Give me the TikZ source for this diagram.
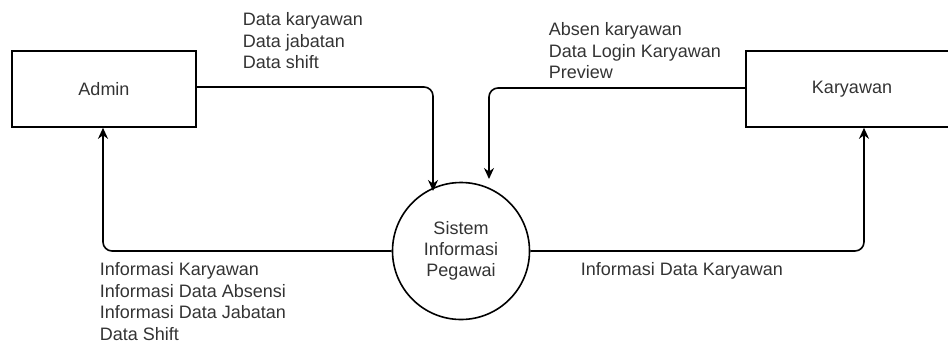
\documentclass[tikz,border=0pt]{standalone}
\usepackage{fontspec}
\setmainfont{Liberation Sans}
\usetikzlibrary{arrows.meta,positioning}
\definecolor{txtgray}{HTML}{333333}
\tikzset{
	thick,
	>={Stealth[length=11pt,width=10pt]},
	entity/.style = {
			draw,
			minimum width  = 184pt,
			minimum height = 76pt,
			font = \fontsize{18}{21.5}\selectfont,
			text = txtgray,
		},
	process/.style = {
			draw,
			circle,
			minimum size = 137pt,
			align = center,
			font = \fontsize{18}{21}\selectfont,
			text = txtgray,
		},
	flow/.style = {->, rounded corners=9pt},
	flowlabel/.style = {
			align = left,
			anchor = north west,
			inner sep = 0pt,
			font = \fontsize{18}{21.5}\selectfont,
			text = txtgray,
		},
}

\begin{document}
\begin{tikzpicture}[x=1pt, y=-1pt, line width=1.6pt]
		\useasboundingbox (0,0) rectangle (948,341);

		\node[entity] at (104,89) (admin) {Admin};
		\node[entity, minimum width=212pt] at (852,89) (karyawan) {Karyawan};
		\node[process] at (461,251) (sistem) {Sistem\\Informasi\\Pegawai};

		\coordinate (adminout) at (433,87);
		\coordinate (karyawanout) at (489,88);
		\coordinate (adminin) at (103,251);
		\coordinate (karyawanin) at (864,251);
		\coordinate (tipadmin) at (433,191);
		\coordinate (tipkaryawan) at (489,179);

		\node[flowlabel] at (242,12) (datain) {Data karyawan\\Data jabatan\\Data shift};
		\node[flowlabel] at (548,22) (absenin) {Absen karyawan\\Data Login Karyawan\\Preview};
		\node[flowlabel] at (99,262) (infoadmin) {Informasi Karyawan\\Informasi Data Absensi\\Informasi Data Jabatan\\Data Shift};
		\node[flowlabel] at (580,262) (infokaryawan) {Informasi Data Karyawan};

		\draw[flow] (admin.east |- adminout) -- (adminout) -- (tipadmin);
		\draw[flow] (karyawan.west |- karyawanout) -- (karyawanout) -- (tipkaryawan);
		\draw[flow] (sistem.west) -- (adminin) -- (admin.south -| adminin);
		\draw[flow] (sistem.east) -- (karyawanin) -- (karyawan.south -| karyawanin);
	\end{tikzpicture}
\end{document}
